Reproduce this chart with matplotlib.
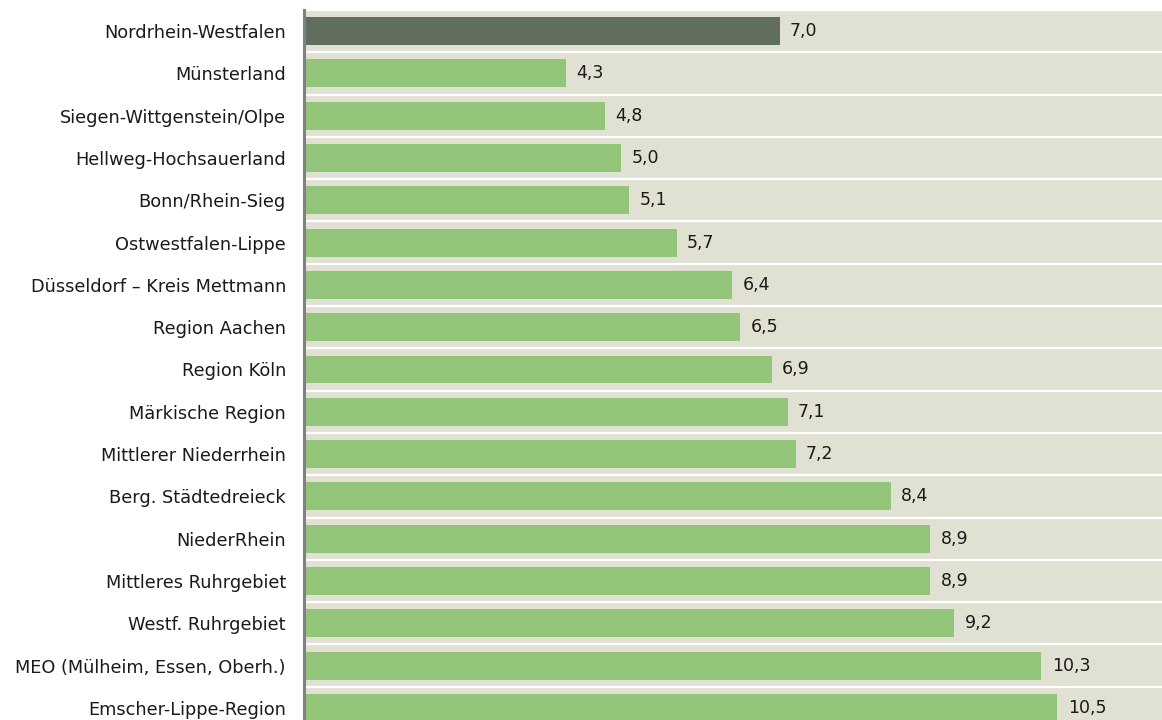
import matplotlib
matplotlib.use('Agg')
import matplotlib.pyplot as plt

regions = ['Nordrhein-Westfalen', 'Münsterland', 'Siegen-Wittgenstein/Olpe',
           'Hellweg-Hochsauerland', 'Bonn/Rhein-Sieg', 'Ostwestfalen-Lippe',
           'Düsseldorf – Kreis Mettmann', 'Region Aachen', 'Region Köln',
           'Märkische Region', 'Mittlerer Niederrhein', 'Berg. Städtedreieck',
           'NiederRhein', 'Mittleres Ruhrgebiet', 'Westf. Ruhrgebiet',
           'MEO (Mülheim, Essen, Oberh.)', 'Emscher-Lippe-Region']
values = [7.0, 4.3, 4.8, 5.0, 5.1, 5.7, 6.4, 6.5, 6.9, 7.1, 7.2,
          8.4, 8.9, 8.9, 9.2, 10.3, 10.5]

bg = '#e0e0d3'
green = '#92c57a'
dark = '#606e5e'

fig = plt.figure(figsize=(11.62, 7.2), dpi=100)
# plot area runs a little past the bottom edge of the image
ax = fig.add_axes([304 / 1162, -9 / 720, 1 - 304 / 1162, 719 / 720])
ax.set_facecolor(bg)

y = list(range(len(regions)))
colors = [dark] + [green] * (len(regions) - 1)
ax.barh(y, values, left=0, height=0.66, color=colors, zorder=2)

# white separators between the rows
for k in range(len(regions)):
    ax.axhline(k - 0.5, color='white', lw=1.6, zorder=1)

for yi, v in zip(y, values):
    ax.text(v + 0.13, yi, f'{v:.1f}'.replace('.', ','), va='center', ha='left',
            fontsize=12.5, color='#1a1a1a', zorder=3)

ax.set_xlim(1.0, 11.82)
ax.set_ylim(len(regions) - 0.5, -0.5)
ax.set_yticks(y)
ax.set_yticklabels(regions, fontsize=12.8, color='#1a1a1a')
ax.tick_params(axis='y', length=0, pad=13)
ax.set_xticks([])

for s in ['top', 'right', 'bottom']:
    ax.spines[s].set_visible(False)
ax.spines['left'].set_color('#808080')
ax.spines['left'].set_linewidth(2.2)
ax.spines['left'].set_zorder(4)

fig.savefig('out.png', dpi=100, facecolor='white')
